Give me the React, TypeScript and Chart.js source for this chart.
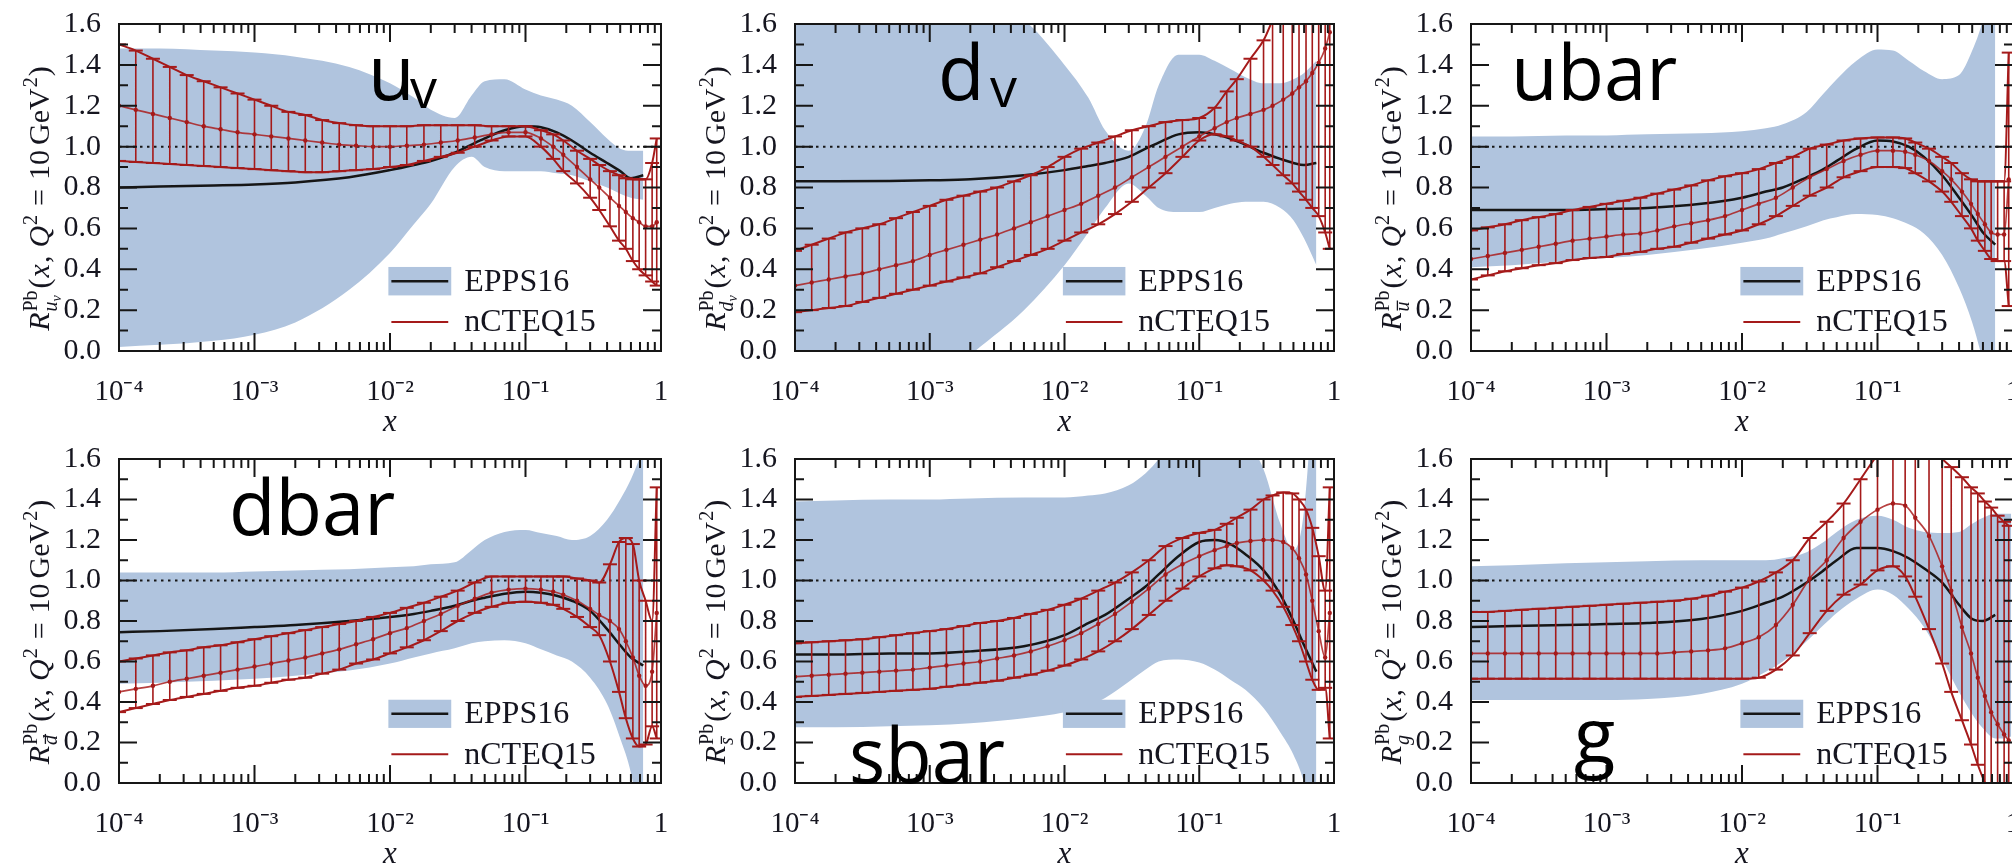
import React, { useEffect, useRef } from 'react';
import { Chart, registerables } from 'chart.js';

Chart.register(...registerables);

// ---------------- axes ----------------
const X_MIN = 1e-4;
const X_MAX = 1;
const Y_MIN = 0;
const Y_MAX = 1.6;
const X_MAJOR_TICKS = [1e-4, 1e-3, 1e-2, 1e-1, 1];
const X_TICK_LABELS = ['10⁻⁴', '10⁻³', '10⁻²', '10⁻¹', '1'];
const X_MINOR_TICKS = [
  2e-4, 3e-4, 4e-4, 5e-4, 6e-4, 7e-4, 8e-4, 9e-4,
  2e-3, 3e-3, 4e-3, 5e-3, 6e-3, 7e-3, 8e-3, 9e-3,
  2e-2, 3e-2, 4e-2, 5e-2, 6e-2, 7e-2, 8e-2, 9e-2,
  0.2, 0.3, 0.4, 0.5, 0.6, 0.7, 0.8, 0.9,
];
const Y_MAJOR_TICKS = [0, 0.2, 0.4, 0.6, 0.8, 1.0, 1.2, 1.4, 1.6];
const Y_MINOR_TICKS = [0.1, 0.3, 0.5, 0.7, 0.9, 1.1, 1.3, 1.5];
const X_TITLE = 'x';
const LEGEND_LABELS = ['EPPS16', 'nCTEQ15'];
const UNITY_X = [1e-4, 1];
const UNITY_Y = [1, 1];

// ---------------- x grids ----------------
const X_EPPS = [1e-4, 2e-4, 5e-4, 1e-3, 2e-3, 5e-3, 0.01, 0.015, 0.02, 0.03, 0.04, 0.05, 0.07, 0.1, 0.13, 0.17, 0.22, 0.3, 0.4, 0.5, 0.6, 0.74];
const X_EPPS_G = [1e-4, 2e-4, 5e-4, 1e-3, 2e-3, 5e-3, 0.01, 0.015, 0.02, 0.03, 0.04, 0.05, 0.07, 0.1, 0.13, 0.17, 0.22, 0.3, 0.4, 0.5, 0.6, 0.74, 0.85, 0.97];
const X_NC = [
  1e-4, 1.33e-4, 1.78e-4, 2.37e-4, 3.16e-4, 4.22e-4, 5.62e-4, 7.5e-4,
  1e-3, 1.33e-3, 1.78e-3, 2.37e-3, 3.16e-3, 4.22e-3, 5.62e-3, 7.5e-3,
  1e-2, 1.33e-2, 1.78e-2, 2.37e-2, 3.16e-2, 4.22e-2, 5.62e-2, 7.5e-2,
  0.1, 0.13, 0.16, 0.19, 0.24, 0.3, 0.35, 0.42, 0.49, 0.55, 0.62, 0.69, 0.77, 0.86, 0.93,
];

// ---------------- u_v ----------------
const UV_EPPS_HI = [1.48, 1.48, 1.47, 1.46, 1.44, 1.39, 1.31, 1.24, 1.18, 1.14, 1.25, 1.32, 1.33, 1.28, 1.25, 1.23, 1.2, 1.12, 1.04, 0.99, 0.98, 0.98];
const UV_EPPS_C = [0.8, 0.805, 0.81, 0.815, 0.825, 0.85, 0.885, 0.91, 0.93, 0.97, 1.01, 1.04, 1.08, 1.1, 1.095, 1.07, 1.03, 0.97, 0.92, 0.88, 0.845, 0.86];
const UV_EPPS_LO = [0.02, 0.03, 0.05, 0.08, 0.14, 0.3, 0.48, 0.62, 0.72, 0.9, 0.95, 0.9, 0.88, 0.88, 0.88, 0.87, 0.86, 0.83, 0.8, 0.77, 0.75, 0.74];
const UV_NC_HI = [1.5, 1.47, 1.43, 1.39, 1.35, 1.32, 1.29, 1.26, 1.23, 1.2, 1.17, 1.155, 1.13, 1.115, 1.105, 1.1, 1.1, 1.1, 1.105, 1.105, 1.105, 1.105, 1.1, 1.1, 1.1, 1.08, 1.06, 1.03, 0.98, 0.94, 0.91, 0.88, 0.86, 0.845, 0.84, 0.84, 0.84, 0.92, 1.04];
const UV_NC_C = [1.2, 1.18, 1.16, 1.14, 1.12, 1.1, 1.085, 1.07, 1.06, 1.05, 1.04, 1.03, 1.02, 1.01, 1.005, 1.0, 1.0, 1.005, 1.01, 1.02, 1.03, 1.045, 1.06, 1.07, 1.07, 1.04, 1.0, 0.96, 0.9, 0.84, 0.8, 0.75, 0.71, 0.68, 0.65, 0.63, 0.61, 0.61, 0.63];
const UV_NC_LO = [0.93, 0.925, 0.92, 0.915, 0.91, 0.905, 0.9, 0.895, 0.89, 0.885, 0.88, 0.875, 0.875, 0.88, 0.885, 0.89, 0.9, 0.91, 0.93, 0.95, 0.97, 1.0, 1.03, 1.05, 1.05, 1.0, 0.94, 0.88, 0.82, 0.75, 0.69, 0.61, 0.54, 0.5, 0.44, 0.4, 0.37, 0.34, 0.32];

// ---------------- d_v ----------------
const DV_EPPS_HI = [1.8, 1.8, 1.8, 1.8, 1.75, 1.62, 1.4, 1.24, 1.08, 0.98, 1.1, 1.3, 1.45, 1.45, 1.42, 1.38, 1.34, 1.31, 1.31, 1.33, 1.36, 1.42];
const DV_EPPS_C = [0.83, 0.83, 0.832, 0.835, 0.84, 0.86, 0.885, 0.905, 0.92, 0.95, 0.99, 1.02, 1.06, 1.07, 1.06, 1.04, 1.01, 0.97, 0.94, 0.92, 0.91, 0.92];
const DV_EPPS_LO = [-0.3, -0.3, -0.25, -0.2, -0.02, 0.2, 0.42, 0.58, 0.7, 0.82, 0.76, 0.7, 0.68, 0.68, 0.7, 0.72, 0.73, 0.73, 0.7, 0.64, 0.55, 0.42];
const DV_NC_HI = [0.49, 0.52, 0.55, 0.58, 0.6, 0.62, 0.65, 0.68, 0.71, 0.74, 0.76, 0.78, 0.8, 0.83, 0.86, 0.9, 0.95, 0.99, 1.02, 1.05, 1.08, 1.1, 1.12, 1.13, 1.14, 1.19, 1.27, 1.33, 1.43, 1.52, 1.62, 1.75, 1.9, 2.0, 2.1, 2.2, 2.3, 2.45, 2.6];
const DV_NC_C = [0.32, 0.335, 0.35, 0.365, 0.38, 0.4, 0.42, 0.44, 0.47, 0.495, 0.52, 0.545, 0.57, 0.6, 0.63, 0.66, 0.69, 0.72, 0.76, 0.8, 0.85, 0.9, 0.95, 1.0, 1.05, 1.09, 1.12, 1.14, 1.16, 1.18, 1.2, 1.23, 1.26, 1.29, 1.32, 1.36, 1.41, 1.48, 1.56];
const DV_NC_LO = [0.19, 0.2, 0.21, 0.22, 0.24, 0.26, 0.28, 0.3, 0.32, 0.34, 0.36, 0.38, 0.41, 0.44, 0.47, 0.5, 0.54, 0.58, 0.62, 0.67, 0.73, 0.8, 0.87, 0.95, 1.03, 1.06, 1.05, 1.03, 1.0, 0.95, 0.91, 0.86, 0.82, 0.78, 0.74, 0.7, 0.66, 0.58, 0.5];

// ---------------- ubar ----------------
const UB_EPPS_HI = [1.05, 1.05, 1.055, 1.055, 1.06, 1.065, 1.075, 1.09, 1.11, 1.17, 1.26, 1.33, 1.42, 1.475, 1.47, 1.42, 1.37, 1.33, 1.35, 1.47, 1.62, 1.9];
const UB_EPPS_C = [0.69, 0.69, 0.69, 0.695, 0.7, 0.72, 0.75, 0.78, 0.8, 0.85, 0.89, 0.93, 0.99, 1.03, 1.025, 1.0, 0.95, 0.86, 0.75, 0.66, 0.58, 0.52];
const UB_EPPS_LO = [0.41, 0.42, 0.44, 0.455, 0.47, 0.5, 0.53, 0.55, 0.575, 0.61, 0.64, 0.655, 0.67, 0.665, 0.65, 0.62, 0.575, 0.47, 0.31, 0.14, -0.05, -0.3];
const UB_NC_HI = [0.59, 0.605, 0.62, 0.64, 0.655, 0.67, 0.69, 0.705, 0.72, 0.735, 0.75, 0.77, 0.79, 0.81, 0.835, 0.855, 0.87, 0.89, 0.92, 0.95, 0.99, 1.01, 1.03, 1.04, 1.045, 1.045, 1.04, 1.02, 0.99, 0.95, 0.92, 0.87, 0.84, 0.83, 0.83, 0.83, 0.83, 0.83, 1.46];
const UB_NC_C = [0.45, 0.465, 0.48, 0.495, 0.51, 0.525, 0.54, 0.55, 0.56, 0.57, 0.575, 0.59, 0.61, 0.625, 0.64, 0.66, 0.69, 0.72, 0.75, 0.8, 0.85, 0.89, 0.93, 0.96, 0.98, 0.98, 0.975, 0.96, 0.93, 0.88, 0.84, 0.78, 0.72, 0.67, 0.62, 0.58, 0.57, 0.57, 0.84];
const UB_NC_LO = [0.35, 0.37, 0.39, 0.405, 0.42, 0.43, 0.445, 0.455, 0.46, 0.475, 0.485, 0.5, 0.51, 0.53, 0.55, 0.57, 0.59, 0.62, 0.66, 0.71, 0.76, 0.8, 0.85, 0.88, 0.9, 0.9, 0.895, 0.87, 0.83, 0.78, 0.73, 0.66, 0.6, 0.54, 0.49, 0.45, 0.44, 0.44, 0.22];

// ---------------- dbar ----------------
const DB_EPPS_HI = [1.04, 1.04, 1.04, 1.045, 1.05, 1.055, 1.065, 1.07, 1.08, 1.09, 1.15, 1.2, 1.24, 1.25, 1.235, 1.22, 1.2, 1.22, 1.3, 1.4, 1.5, 1.65];
const DB_EPPS_C = [0.745, 0.75, 0.76, 0.77, 0.78, 0.8, 0.82, 0.835, 0.85, 0.875, 0.9, 0.915, 0.935, 0.945, 0.94, 0.925, 0.9, 0.85, 0.76, 0.68, 0.62, 0.58];
const DB_EPPS_LO = [0.49, 0.495, 0.505, 0.515, 0.53, 0.555, 0.59, 0.62, 0.64, 0.665, 0.69, 0.7, 0.705, 0.69, 0.66, 0.63, 0.6, 0.52, 0.39, 0.22, 0.05, -0.3];
const DB_NC_HI = [0.6, 0.615, 0.63, 0.645, 0.655, 0.67, 0.68, 0.695, 0.71, 0.725, 0.74, 0.755, 0.77, 0.785, 0.8, 0.82, 0.84, 0.865, 0.89, 0.92, 0.95, 0.99, 1.02, 1.02, 1.02, 1.02, 1.02, 1.02, 1.01, 1.0, 0.99, 1.08, 1.19, 1.21, 1.18, 1.0, 0.9, 0.8, 1.46];
const DB_NC_C = [0.45, 0.465, 0.48, 0.5, 0.515, 0.53, 0.545, 0.56, 0.575, 0.59, 0.605, 0.62, 0.64, 0.66, 0.685, 0.71, 0.74, 0.765, 0.8, 0.835, 0.875, 0.91, 0.94, 0.955, 0.96, 0.955, 0.945, 0.93, 0.9, 0.86, 0.83, 0.8, 0.76, 0.7, 0.62, 0.53, 0.48, 0.55, 0.84];
const DB_NC_LO = [0.35, 0.37, 0.39, 0.41, 0.425, 0.44, 0.455, 0.47, 0.48, 0.495, 0.51, 0.52, 0.54, 0.56, 0.59, 0.61, 0.64, 0.67, 0.705, 0.75, 0.8, 0.84, 0.87, 0.89, 0.895, 0.89, 0.88, 0.86, 0.82, 0.77, 0.73, 0.6, 0.45, 0.32, 0.22, 0.18, 0.19, 0.28, 0.22];

// ---------------- sbar ----------------
const SB_EPPS_HI = [1.39, 1.395, 1.4, 1.4, 1.405, 1.41, 1.41, 1.42, 1.43, 1.47, 1.53, 1.6, 1.75, 1.85, 1.85, 1.8, 1.7, 1.55, 1.28, 1.15, 1.35, 2.2];
const SB_EPPS_C = [0.635, 0.635, 0.64, 0.64, 0.65, 0.675, 0.73, 0.79, 0.83, 0.91, 0.97, 1.03, 1.12, 1.19, 1.2, 1.18, 1.13, 1.05, 0.93, 0.8, 0.68, 0.55];
const SB_EPPS_LO = [0.275, 0.275, 0.28, 0.285, 0.295, 0.32, 0.35, 0.385, 0.42, 0.5, 0.56, 0.6, 0.61, 0.595, 0.56, 0.51, 0.46, 0.37, 0.25, 0.14, 0.0, -0.3];
const SB_NC_HI = [0.69, 0.695, 0.7, 0.705, 0.71, 0.72, 0.73, 0.74, 0.75, 0.76, 0.775, 0.79, 0.8, 0.815, 0.835, 0.855, 0.88, 0.91, 0.95, 0.99, 1.04, 1.1, 1.17, 1.21, 1.235, 1.25, 1.28, 1.31, 1.35, 1.4, 1.42, 1.435, 1.43, 1.4, 1.35, 1.26, 1.12, 0.95, 1.46];
const SB_NC_C = [0.525, 0.53, 0.535, 0.54, 0.545, 0.55, 0.555, 0.56, 0.57, 0.58, 0.59, 0.6, 0.615, 0.63, 0.65, 0.675, 0.705, 0.74, 0.785, 0.835, 0.895, 0.96, 1.03, 1.08, 1.12, 1.15, 1.17, 1.185, 1.195, 1.2, 1.2, 1.19, 1.16, 1.11, 1.03, 0.9, 0.75, 0.62, 0.84];
const SB_NC_LO = [0.425, 0.43, 0.435, 0.44, 0.445, 0.45, 0.455, 0.46, 0.465, 0.475, 0.485, 0.495, 0.505, 0.52, 0.535, 0.555, 0.58, 0.61, 0.65, 0.7, 0.76, 0.83, 0.9, 0.96, 1.02, 1.06, 1.075, 1.07, 1.05, 1.0, 0.95, 0.87, 0.78, 0.7, 0.6, 0.51, 0.46, 0.47, 0.22];

// ---------------- g ----------------
const G_EPPS_HI = [1.07, 1.075, 1.085, 1.09, 1.095, 1.1, 1.1, 1.1, 1.11, 1.14, 1.19, 1.24, 1.3, 1.32, 1.3, 1.26, 1.24, 1.235, 1.24, 1.28, 1.31, 1.33, 1.33, 1.33];
const G_EPPS_C = [0.77, 0.775, 0.78, 0.785, 0.79, 0.81, 0.85, 0.89, 0.92, 0.99, 1.05, 1.1, 1.16, 1.16, 1.145, 1.11, 1.06, 0.99, 0.88, 0.81, 0.8, 0.83, null, null];
const G_EPPS_LO = [0.41, 0.41, 0.41, 0.41, 0.415, 0.44, 0.49, 0.55, 0.6, 0.7, 0.78, 0.84, 0.91, 0.955, 0.93, 0.86, 0.77, 0.61, 0.45, 0.34, 0.27, 0.22, 0.22, 0.23];
const G_NC_HI = [0.845, 0.845, 0.85, 0.855, 0.86, 0.865, 0.87, 0.875, 0.88, 0.885, 0.89, 0.895, 0.9, 0.91, 0.925, 0.945, 0.965, 0.995, 1.04, 1.1, 1.21, 1.29, 1.38, 1.5, 1.62, 1.7, 1.72, 1.7, 1.66, 1.6, 1.56, 1.51, 1.46, 1.43, 1.39, 1.36, 1.32, 1.29, 1.27];
const G_NC_C = [0.64, 0.64, 0.64, 0.64, 0.64, 0.64, 0.64, 0.64, 0.64, 0.64, 0.64, 0.64, 0.645, 0.65, 0.655, 0.665, 0.69, 0.72, 0.78, 0.88, 1.01, 1.1, 1.21, 1.29, 1.35, 1.38, 1.37, 1.31, 1.22, 1.07, 0.95, 0.77, 0.64, 0.52, 0.43, 0.35, 0.29, 0.24, 0.21];
const G_NC_LO = [0.515, 0.515, 0.515, 0.515, 0.515, 0.515, 0.515, 0.515, 0.515, 0.515, 0.515, 0.515, 0.515, 0.515, 0.515, 0.515, 0.515, 0.52, 0.56, 0.63, 0.74, 0.85, 0.93, 0.98, 1.05, 1.07, 1.02, 0.92, 0.76, 0.59, 0.45, 0.31, 0.19, 0.09, 0.0, -0.08, -0.15, -0.2, -0.25];

// ---------------- styling ----------------
const BAND = 'rgb(176,196,222)';
const RED = '#a51a1a';
const RED_MID = 'rgba(170,30,30,0.85)';
const BLACK = '#161616';
const TEXT = '#15151f';
const SANS = '"Open Sans", "Noto Sans", sans-serif';
const PAD_L = 119;
const PAD_T = 24;
const PAD_R = 12;
const PAD_B = 90;
const MAJOR_LEN = 18;
const MINOR_LEN = 9;

// choose the first installed Times-like serif face
function pickSerif(): string {
  const cands = ['Liberation Serif', 'Times New Roman', 'Tinos', 'Nimbus Roman', 'DejaVu Serif', 'Noto Serif'];
  try {
    const c = document.createElement('canvas').getContext('2d');
    if (!c) return '"Liberation Serif", serif';
    const probe = 'mmmmmmmmmmlliWQ@#0123456789';
    const wOf = (f: string) => { c.font = `40px ${f}`; return c.measureText(probe).width; };
    const bMono = wOf('monospace');
    const bSans = wOf('sans-serif');
    for (const n of cands) {
      if (wOf(`"${n}", monospace`) !== bMono || wOf(`"${n}", sans-serif`) !== bSans) return `"${n}", serif`;
    }
  } catch (e) { /* ignore */ }
  return 'serif';
}
const SERIF = pickSerif();

type Tok = { t: string; sz: number; it: boolean; dy: number; gap?: number; over?: boolean };

const PANELS = [
  { id: 'uv', left: 119, top: 24, w: 542, h: 327, sub: 'uv', xe: X_EPPS,
    labels: [{ t: 'u', x: 249, y: 76, sz: 76 }, { t: 'v', x: 291, y: 84, sz: 54 }],
    epps: [UV_EPPS_LO, UV_EPPS_C, UV_EPPS_HI], nc: [UV_NC_LO, UV_NC_C, UV_NC_HI] },
  { id: 'dv', left: 795, top: 24, w: 539, h: 327, sub: 'dv', xe: X_EPPS,
    labels: [{ t: 'd', x: 143, y: 76, sz: 76 }, { t: 'v', x: 195, y: 83, sz: 54 }],
    epps: [DV_EPPS_LO, DV_EPPS_C, DV_EPPS_HI], nc: [DV_NC_LO, DV_NC_C, DV_NC_HI] },
  { id: 'ubar', left: 1471, top: 24, w: 542, h: 327, sub: 'ubar', xe: X_EPPS,
    labels: [{ t: 'ubar', x: 40, y: 76, sz: 76 }],
    epps: [UB_EPPS_LO, UB_EPPS_C, UB_EPPS_HI], nc: [UB_NC_LO, UB_NC_C, UB_NC_HI] },
  { id: 'dbar', left: 119, top: 459, w: 542, h: 324, sub: 'dbar', xe: X_EPPS,
    labels: [{ t: 'dbar', x: 110, y: 76, sz: 76 }],
    epps: [DB_EPPS_LO, DB_EPPS_C, DB_EPPS_HI], nc: [DB_NC_LO, DB_NC_C, DB_NC_HI] },
  { id: 'sbar', left: 795, top: 459, w: 539, h: 324, sub: 'sbar', xe: X_EPPS,
    labels: [{ t: 'sbar', x: 54, y: 324, sz: 76 }],
    epps: [SB_EPPS_LO, SB_EPPS_C, SB_EPPS_HI], nc: [SB_NC_LO, SB_NC_C, SB_NC_HI] },
  { id: 'g', left: 1471, top: 459, w: 542, h: 324, sub: 'g', xe: X_EPPS_G,
    labels: [{ t: 'g', x: 103, y: 304, sz: 76 }],
    epps: [G_EPPS_LO, G_EPPS_C, G_EPPS_HI], nc: [G_NC_LO, G_NC_C, G_NC_HI] },
];

function subTokens(kind: string): Tok[] {
  const s = 20, dy = 8;
  switch (kind) {
    case 'uv': return [{ t: 'u', sz: s, it: true, dy }, { t: 'v', sz: 14, it: true, dy: dy + 4 }];
    case 'dv': return [{ t: 'd', sz: s, it: true, dy }, { t: 'v', sz: 14, it: true, dy: dy + 4 }];
    case 'ubar': return [{ t: 'u', sz: s, it: true, dy, over: true }];
    case 'dbar': return [{ t: 'd', sz: s, it: true, dy, over: true }];
    case 'sbar': return [{ t: 's', sz: s, it: true, dy, over: true }];
    default: return [{ t: 'g', sz: s, it: true, dy }];
  }
}

function fontOf(tk: Tok) {
  return `${tk.it ? 'italic ' : ''}${tk.sz}px ${SERIF}`;
}

function drawTokens(ctx: CanvasRenderingContext2D, toks: Tok[], x0: number) {
  let x = x0;
  for (const tk of toks) {
    ctx.font = fontOf(tk);
    const w = ctx.measureText(tk.t).width;
    ctx.fillText(tk.t, x, tk.dy);
    if (tk.over) {
      ctx.beginPath();
      ctx.lineWidth = 1.3;
      ctx.moveTo(x + 1, tk.dy - tk.sz * 0.58);
      ctx.lineTo(x + w + 1, tk.dy - tk.sz * 0.58);
      ctx.stroke();
    }
    x += w + (tk.gap || 0);
  }
  return x - x0;
}

function widthOf(ctx: CanvasRenderingContext2D, toks: Tok[]) {
  let w = 0;
  for (const tk of toks) {
    ctx.font = fontOf(tk);
    w += ctx.measureText(tk.t).width + (tk.gap || 0);
  }
  return w;
}

function drawYTitle(ctx: CanvasRenderingContext2D, area: any, kind: string) {
  const pre: Tok[] = [{ t: 'R', sz: 30, it: true, dy: 0, gap: 1 }];
  const sup: Tok[] = [{ t: 'Pb', sz: 20, it: false, dy: -12 }];
  const sub = subTokens(kind);
  const post: Tok[] = [
    { t: '(', sz: 30, it: false, dy: 0, gap: 1 },
    { t: 'x', sz: 30, it: true, dy: 0, gap: 1 },
    { t: ',', sz: 30, it: false, dy: 0, gap: 8 },
    { t: 'Q', sz: 30, it: true, dy: 0, gap: 1 },
    { t: '2', sz: 20, it: false, dy: -12, gap: 9 },
    { t: '=', sz: 30, it: false, dy: 0, gap: 9 },
    { t: '10', sz: 30, it: false, dy: 0, gap: 5 },
    { t: 'GeV', sz: 30, it: false, dy: 0, gap: 1 },
    { t: '2', sz: 20, it: false, dy: -12, gap: 1 },
    { t: ')', sz: 30, it: false, dy: 0 },
  ];
  const preW = widthOf(ctx, pre);
  const stackW = Math.max(widthOf(ctx, sup), widthOf(ctx, sub)) + 2;
  const postW = widthOf(ctx, post);
  const total = preW + stackW + postW;
  const H = area.bottom - area.top;
  ctx.save();
  ctx.translate(area.left - 70, area.top + 0.534 * H);
  ctx.rotate(-Math.PI / 2);
  ctx.fillStyle = TEXT;
  ctx.strokeStyle = TEXT;
  ctx.textBaseline = 'alphabetic';
  ctx.textAlign = 'left';
  let x = -total / 2;
  drawTokens(ctx, pre, x);
  x += preW;
  drawTokens(ctx, sup, x);
  drawTokens(ctx, sub, x);
  x += stackW;
  drawTokens(ctx, post, x);
  ctx.restore();
}

function drawLegend(ctx: CanvasRenderingContext2D, area: any) {
  const W = area.right - area.left;
  const H = area.bottom - area.top;
  const bx0 = area.left + 0.497 * W;
  const bx1 = area.left + 0.613 * W;
  const by0 = area.top + 0.743 * H;
  const by1 = area.top + 0.83 * H;
  const yc = (by0 + by1) / 2;
  const ry = area.top + 0.911 * H;
  const tx = area.left + 0.637 * W;
  ctx.save();
  ctx.fillStyle = BAND;
  ctx.fillRect(bx0, by0, bx1 - bx0, by1 - by0);
  ctx.lineWidth = 2.5;
  ctx.strokeStyle = BLACK;
  ctx.beginPath();
  ctx.moveTo(bx0 + 3, yc);
  ctx.lineTo(bx1 - 3, yc);
  ctx.stroke();
  ctx.lineWidth = 2;
  ctx.strokeStyle = RED;
  ctx.beginPath();
  ctx.moveTo(bx0 + 3, ry);
  ctx.lineTo(bx1 - 3, ry);
  ctx.stroke();
  ctx.fillStyle = TEXT;
  ctx.font = `32px ${SERIF}`;
  ctx.textBaseline = 'middle';
  ctx.textAlign = 'left';
  ctx.fillText(LEGEND_LABELS[0], tx, yc + 1);
  ctx.fillText(LEGEND_LABELS[1], tx, ry + 1);
  ctx.restore();
}

function buildConfig(p: any) {
  const [eLo, eC, eHi] = p.epps;
  const [nLo, nC, nHi] = p.nc;
  const xe: number[] = p.xe;
  const pts = (xs: number[], ys: (number | null)[]) => xs.map((x, i) => ({ x, y: ys[i] }));
  const bars: any[] = [];
  X_NC.forEach((x, i) => {
    bars.push({ x, y: nLo[i] }, { x, y: nHi[i] }, { x, y: null });
  });
  const curve = { cubicInterpolationMode: 'monotone', pointRadius: 0, pointHoverRadius: 0 };
  const overlay = {
    id: 'overlay-' + p.id,
    afterDatasetsDraw(chart: any) {
      const { ctx, chartArea: a, scales } = chart;
      const xs = scales.x;
      const ys = scales.y;
      ctx.save();
      ctx.strokeStyle = BLACK;
      ctx.lineWidth = 2;
      ctx.beginPath();
      const seg = (x1: number, y1: number, x2: number, y2: number) => { ctx.moveTo(x1, y1); ctx.lineTo(x2, y2); };
      X_MAJOR_TICKS.forEach((v) => { const px = xs.getPixelForValue(v); seg(px, a.bottom, px, a.bottom - MAJOR_LEN); seg(px, a.top, px, a.top + MAJOR_LEN); });
      X_MINOR_TICKS.forEach((v) => { const px = xs.getPixelForValue(v); seg(px, a.bottom, px, a.bottom - MINOR_LEN); seg(px, a.top, px, a.top + MINOR_LEN); });
      Y_MAJOR_TICKS.forEach((v) => { const py = ys.getPixelForValue(v); seg(a.left, py, a.left + MAJOR_LEN, py); seg(a.right, py, a.right - MAJOR_LEN, py); });
      Y_MINOR_TICKS.forEach((v) => { const py = ys.getPixelForValue(v); seg(a.left, py, a.left + MINOR_LEN, py); seg(a.right, py, a.right - MINOR_LEN, py); });
      ctx.stroke();
      ctx.strokeRect(a.left, a.top, a.right - a.left, a.bottom - a.top);
      ctx.restore();
    },
    afterDraw(chart: any) {
      const { ctx, chartArea: a } = chart;
      drawLegend(ctx, a);
      drawYTitle(ctx, a, p.sub);
      ctx.save();
      ctx.fillStyle = '#000';
      ctx.textBaseline = 'alphabetic';
      ctx.textAlign = 'left';
      p.labels.forEach((l: any) => {
        ctx.font = `400 ${l.sz}px ${SANS}`;
        ctx.fillText(l.t, a.left + l.x, a.top + l.y);
      });
      ctx.restore();
    },
  };
  return {
    type: 'line',
    data: {
      datasets: [
        { label: 'EPPS16 upper', data: pts(xe, eHi), borderColor: 'rgba(0,0,0,0)', borderWidth: 0, backgroundColor: BAND, fill: '+1', order: 10, ...curve },
        { label: 'EPPS16 lower', data: pts(xe, eLo), borderColor: 'rgba(0,0,0,0)', borderWidth: 0, fill: false, order: 10, ...curve },
        { label: 'unity', data: pts(UNITY_X, UNITY_Y), borderColor: BLACK, borderWidth: 2, borderDash: [2.5, 4.5], fill: false, order: 8, pointRadius: 0 },
        { label: LEGEND_LABELS[0], data: pts(xe, eC), borderColor: BLACK, borderWidth: 2.5, fill: false, order: 6, spanGaps: false, ...curve },
        { label: 'nCTEQ15 errors', data: bars, borderColor: RED, borderWidth: 1.6, fill: false, spanGaps: false, order: 4, pointRadius: 0, tension: 0 },
        { label: 'nCTEQ15 upper', data: pts(X_NC, nHi), borderColor: RED, borderWidth: 2, fill: false, order: 2, cubicInterpolationMode: 'monotone',
          pointStyle: 'line', pointRadius: 7, pointBorderWidth: 2, pointBorderColor: RED, pointHoverRadius: 7 },
        { label: 'nCTEQ15 lower', data: pts(X_NC, nLo), borderColor: RED, borderWidth: 2, fill: false, order: 2, cubicInterpolationMode: 'monotone',
          pointStyle: 'line', pointRadius: 7, pointBorderWidth: 2, pointBorderColor: RED, pointHoverRadius: 7 },
        { label: LEGEND_LABELS[1], data: pts(X_NC, nC), borderColor: RED_MID, borderWidth: 1.7, fill: false, order: 2, cubicInterpolationMode: 'monotone',
          pointStyle: 'circle', pointRadius: 2.2, pointBorderWidth: 0, pointBackgroundColor: RED, pointHoverRadius: 2 },
      ],
    },
    options: {
      animation: false,
      responsive: false,
      maintainAspectRatio: false,
      devicePixelRatio: 1,
      events: [],
      layout: { padding: { left: 0, top: PAD_T, right: PAD_R, bottom: 0 } },
      plugins: { legend: { display: false }, tooltip: { enabled: false }, title: { display: false } },
      scales: {
        x: {
          type: 'logarithmic', min: X_MIN, max: X_MAX, position: 'bottom',
          grid: { display: false, drawTicks: false }, border: { display: false },
          afterBuildTicks: (s: any) => { s.ticks = X_MAJOR_TICKS.map((v) => ({ value: v })); },
          ticks: { autoSkip: false, maxRotation: 0, minRotation: 0, padding: 24, color: TEXT, font: { family: SERIF, size: 29 },
            callback: (_v: any, i: number) => X_TICK_LABELS[i] },
          title: { display: true, text: X_TITLE, color: TEXT, padding: 0, font: { family: SERIF, size: 31, style: 'italic' } },
          afterFit: (s: any) => { s.height = PAD_B; s.paddingLeft = 0; s.paddingRight = 0; },
        },
        y: {
          type: 'linear', min: Y_MIN, max: Y_MAX,
          grid: { display: false, drawTicks: false }, border: { display: false },
          afterBuildTicks: (s: any) => { s.ticks = Y_MAJOR_TICKS.map((v) => ({ value: v })); },
          ticks: { padding: 18, color: TEXT, font: { family: SERIF, size: 30 }, callback: (v: any) => Number(v).toFixed(1) },
          afterFit: (s: any) => { s.width = PAD_L; s.paddingTop = 0; s.paddingBottom = 0; },
        },
      },
    },
    plugins: [overlay],
  };
}

function Panel({ p }: { p: any }) {
  const ref = useRef<HTMLCanvasElement | null>(null);
  const cw = PAD_L + p.w + PAD_R;
  const ch = PAD_T + p.h + PAD_B;
  useEffect(() => {
    if (!ref.current) return;
    const chart = new Chart(ref.current, buildConfig(p) as any);
    return () => chart.destroy();
  }, [p]);
  return (
    <canvas
      ref={ref}
      width={cw}
      height={ch}
      style={{ position: 'absolute', left: p.left - PAD_L, top: p.top - PAD_T, width: cw, height: ch }}
    />
  );
}

export default function App() {
  return (
    <div style={{ position: 'absolute', left: 0, top: 0, width: 2012, height: 863, overflow: 'hidden', background: '#fff' }}>
      {PANELS.map((p) => (
        <Panel key={p.id} p={p} />
      ))}
    </div>
  );
}
